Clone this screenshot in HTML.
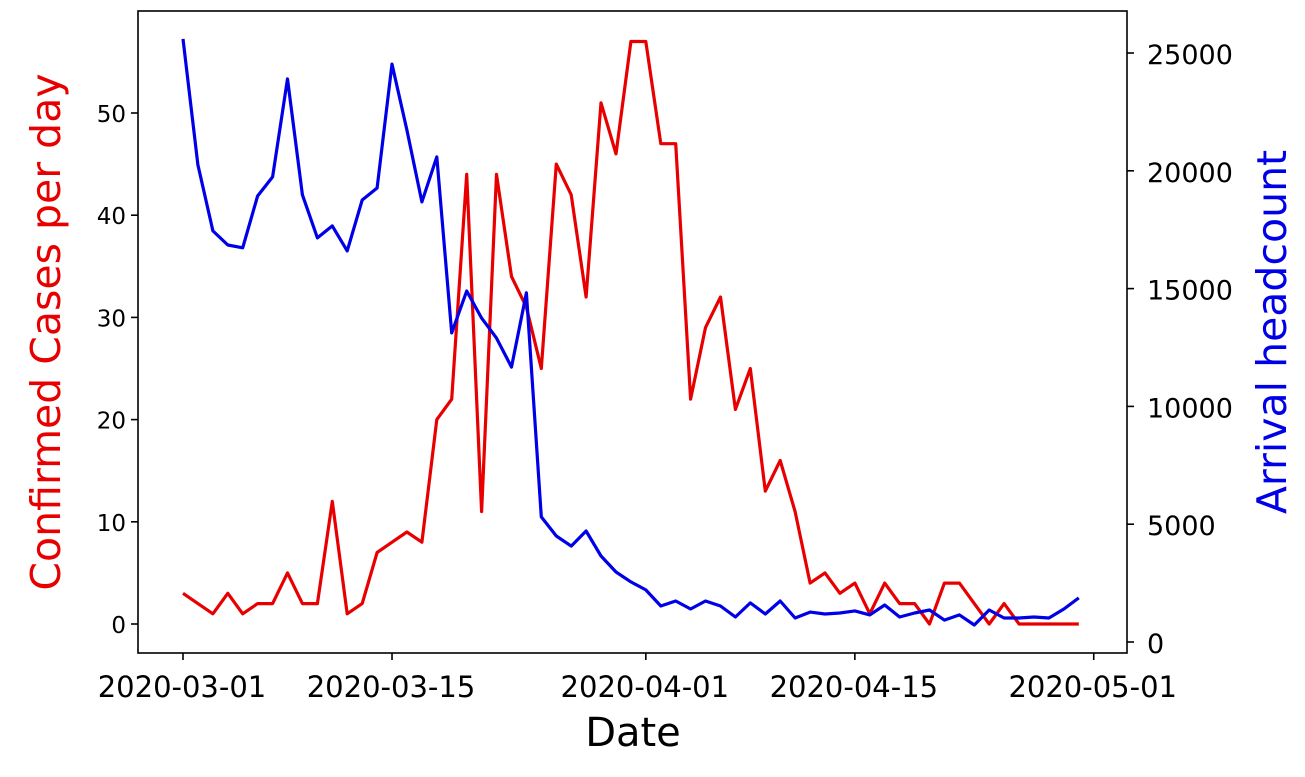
<!DOCTYPE html>
<html><head><meta charset="utf-8"><style>
body{margin:0;background:#fff}
svg text{font-family:"DejaVu Sans","Liberation Sans",sans-serif}
</style></head><body>
<svg id="chart" width="1305" height="772" xmlns="http://www.w3.org/2000/svg">
<g id="g"></g>
</svg>
<script>
const cases=[3,2,1,3,1,2,2,5,2,2,12,1,2,7,8,9,8,20,22,44,11,44,34,31,25,45,42,32,51,46,57,57,47,47,22,29,32,21,25,13,16,11,4,5,3,4,1,4,2,2,0,4,4,2,0,2,0,0,0,0,0];
const arrivals=[25600,20250,17450,16850,16730,18930,19740,23900,18980,17150,17660,16600,18760,19270,24530,21730,18680,20590,13120,14900,13750,12900,11670,14820,5310,4500,4070,4710,3650,2970,2550,2210,1530,1740,1400,1740,1530,1060,1660,1190,1740,1020,1270,1190,1230,1320,1150,1570,1060,1230,1360,930,1150,720,1360,1020,1020,1060,1020,1400,1870];
const leftTicks=[0,10,20,30,40,50];
const rightTicks=[0,5000,10000,15000,20000,25000];
const dateTicks=[0,14,31,45,61];
const dateLabels=["2020-03-01","2020-03-15","2020-04-01","2020-04-15","2020-05-01"];
const L=138,R=1127,T=11,B=653;
const xs=d=>183+d*14.93;
const yl=v=>624-v*10.22;
const yr=v=>642-v*589/25000;
const g=document.getElementById('g');
const NS='http://www.w3.org/2000/svg';
function mk(t,a,txt){const e=document.createElementNS(NS,t);for(const k in a)e.setAttribute(k,a[k]);if(txt!==undefined)e.textContent=txt;g.appendChild(e);return e;}
let e;
e=mk('path',{d:'M'+cases.map((v,i)=>xs(i).toFixed(1)+','+yl(v).toFixed(1)).join('L'),fill:'none',stroke:'#e80000','stroke-width':3.2,'stroke-linejoin':'round'});


e=mk('path',{d:'M'+arrivals.map((v,i)=>xs(i).toFixed(1)+','+yr(v).toFixed(1)).join('L'),fill:'none',stroke:'#0000e8','stroke-width':3.2,'stroke-linejoin':'round'});


e=mk('rect',{x:L,y:T,width:R-L,height:B-T,fill:'none',stroke:'#000','stroke-width':1.6});


leftTicks.forEach(v=>{
 mk('line',{x1:L-7,x2:L,y1:yl(v),y2:yl(v),stroke:'#000','stroke-width':1.6});
 e=mk('text',{x:L-12,y:yl(v)+9,'text-anchor':'end','font-size':23},v);
 
 
});
rightTicks.forEach(v=>{
 mk('line',{x1:R,x2:R+7,y1:yr(v),y2:yr(v),stroke:'#000','stroke-width':1.6});
 e=mk('text',{x:R+20,y:yr(v)+11,'text-anchor':'start','font-size':27},v);
 
 
});
dateTicks.forEach((d,i)=>{
 mk('line',{x1:xs(d),x2:xs(d),y1:B,y2:B+7,stroke:'#000','stroke-width':1.6});
 e=mk('text',{x:xs(d)-1,y:697,'text-anchor':'middle','font-size':29},dateLabels[i]);
 
 
});
e=mk('text',{x:633,y:746,'text-anchor':'middle','font-size':40},'Date');


e=mk('text',{x:0,y:0,'text-anchor':'middle','font-size':41,fill:'#e80000',transform:'translate(60,332) rotate(-90)'},'Confirmed Cases per day');


e=mk('text',{x:0,y:0,'text-anchor':'middle','font-size':41,fill:'#0000e8',transform:'translate(1286,332) rotate(-90)'},'Arrival headcount');


</script>
</body></html>
